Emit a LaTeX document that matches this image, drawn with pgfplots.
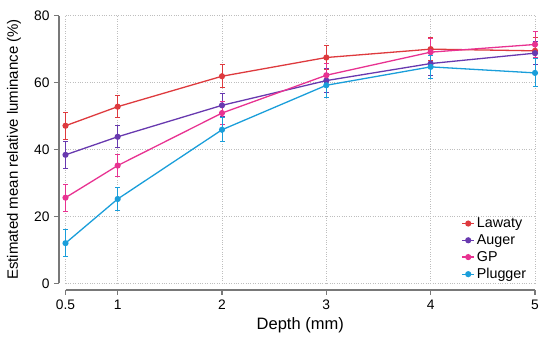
\documentclass[border=0pt]{standalone}
\usepackage{pgfplots}
\pgfplotsset{compat=1.18}
\usepackage{fontspec}
\setmainfont{Liberation Sans}
\definecolor{lawaty}{RGB}{222,58,62}
\definecolor{auger}{RGB}{104,57,175}
\definecolor{gp}{RGB}{232,50,145}
\definecolor{plugger}{RGB}{26,158,218}
\definecolor{axgray}{RGB}{120,120,120}
\definecolor{gridgray}{RGB}{190,190,190}

\pgfplotstableread{
x y e
0.5 47.1 4.0
1 52.8 3.3
2 61.9 3.5
3 67.5 3.7
4 70.0 3.5
5 69.5 4.0
}\lawatytab
\pgfplotstableread{
x y e
0.5 38.4 4.0
1 43.8 3.3
2 53.2 3.4
3 60.6 3.5
4 65.7 3.5
5 68.8 3.5
}\augertab
\pgfplotstableread{
x y e
0.5 25.6 4.0
1 35.2 3.4
2 50.9 3.5
3 62.2 3.5
4 69.1 4.0
5 71.4 4.0
}\gptab
\pgfplotstableread{
x y e
0.5 12.0 4.0
1 25.2 3.5
2 45.9 3.6
3 59.2 3.6
4 64.7 3.5
5 62.9 4.2
}\pluggertab

\begin{document}
\begin{tikzpicture}
\begin{axis}[
  scale only axis,
  width=469.5pt, height=267.6pt,
  xmin=0.5, xmax=5, ymin=0, ymax=80,
  axis lines=left,
  axis line style={-, axgray, line width=1.3pt},
  axis x line shift=6.7pt,
  axis y line shift=6.5pt,
  xtick={0.5,1,2,3,4,5},
  xticklabels={0.5,1,2,3,4,5},
  ytick={0,20,40,60,80},
  tick align=outside,
  major tick length=5pt,
  tick style={axgray, line width=1.2pt},
  grid=major,
  grid style={gridgray, dotted, line width=0.9pt},
  /pgf/number format/assume math mode=true,
  tick label style={font=\fontsize{13.8}{15}\selectfont, text=black},
  xticklabel style={yshift=-1pt},
  yticklabel style={xshift=-1pt},
  xlabel={Depth (mm)},
  ylabel={Estimated mean relative luminance (\%)},
  every axis x label/.style={at={(axis description cs:0.5,-0.1558)}, anchor=center, font=\fontsize{16.5}{18}\selectfont},
  every axis y label/.style={at={(axis description cs:-0.1097,0.5)}, rotate=90, anchor=center, font=\fontsize{15}{17}\selectfont},
  clip=false,
  legend style={at={(rel axis cs:0.988,0.0)}, anchor=south east, draw=none, fill=none,
    font=\fontsize{14.3}{16}\selectfont, row sep=1.4pt, inner sep=1pt},
  legend cell align=left,
  legend image code/.code={
    \draw[#1, mark repeat=2, mark phase=2] plot coordinates {(0pt,0pt) (6pt,0pt) (12pt,0pt)};
  },
  every axis plot/.append style={line width=1.3pt, mark=*, mark size=2.4pt,
    error bars/y dir=both, error bars/y explicit,
    error bars/error bar style={line width=1pt},
    error bars/error mark options={rotate=90, mark size=2.5pt, line width=1pt}},
]
\addplot[color=lawaty, mark options={fill=lawaty, draw=lawaty}] table[x=x, y=y, y error=e] {\lawatytab};
\addlegendentry{Lawaty}
\addplot[color=auger, mark options={fill=auger, draw=auger}] table[x=x, y=y, y error=e] {\augertab};
\addlegendentry{Auger}
\addplot[color=gp, mark options={fill=gp, draw=gp}] table[x=x, y=y, y error=e] {\gptab};
\addlegendentry{GP}
\addplot[color=plugger, mark options={fill=plugger, draw=plugger}] table[x=x, y=y, y error=e] {\pluggertab};
\addlegendentry{Plugger}
\end{axis}
\pgfresetboundingbox
\path[use as bounding box] ([shift={(-65.5pt,-54.7pt)}]current axis.south west) rectangle ([shift={(15pt,15.7pt)}]current axis.north east);
\end{tikzpicture}
\end{document}
